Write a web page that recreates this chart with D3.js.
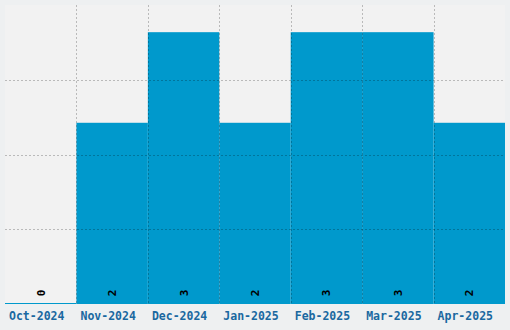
<!DOCTYPE html>
<html>
<head>
<meta charset="utf-8">
<script src="https://cdn.jsdelivr.net/npm/d3@7"></script>
<style>
  body { margin: 0; background: #eef0f1; }
  svg { display: block; }
</style>
</head>
<body>
<div id="chart"></div>
<script>
// data
var months = ["Oct-2024", "Nov-2024", "Dec-2024", "Jan-2025", "Feb-2025", "Mar-2025", "Apr-2025"];
var counts = [0, 2, 3, 2, 3, 3, 2];
var yMax = 3.3;

var width = 510, height = 330;
var margin = { top: 5, right: 5, bottom: 26, left: 5 };
var plotW = width - margin.left - margin.right;
var plotH = height - margin.top - margin.bottom;

var svg = d3.select("#chart").append("svg")
    .attr("width", width)
    .attr("height", height);

var g = svg.append("g")
    .attr("transform", "translate(" + margin.left + "," + margin.top + ")");

// plot background
g.append("rect")
    .attr("width", plotW)
    .attr("height", plotH)
    .attr("fill", "#f2f2f2");

var x = d3.scaleBand().domain(months).range([0, plotW]).padding(0);
var y = d3.scaleLinear().domain([0, yMax]).range([plotH, 0]);

// bars
g.selectAll(".bar")
    .data(counts)
    .enter()
    .append("rect")
    .attr("class", "bar")
    .attr("x", function(d, i) { return x(months[i]); })
    .attr("y", function(d) { return y(d); })
    .attr("width", x.bandwidth())
    .attr("height", function(d) { return plotH - y(d); })
    .attr("fill", "#0099cc");

// zero baseline for empty bars
g.selectAll(".zero")
    .data(counts.map(function(d, i) { return { v: d, m: months[i] }; }).filter(function(d) { return d.v === 0; }))
    .enter()
    .append("line")
    .attr("x1", function(d) { return x(d.m); })
    .attr("x2", function(d) { return x(d.m) + x.bandwidth(); })
    .attr("y1", y(0) - 0.5)
    .attr("y2", y(0) - 0.5)
    .attr("stroke", "#0099cc")
    .attr("stroke-width", 1.2);

// grid (4 even divisions)
var gridY = d3.range(1, 4).map(function(i) { return yMax * i / 4; });
g.selectAll(".hgrid")
    .data(gridY)
    .enter()
    .append("line")
    .attr("x1", 0)
    .attr("x2", plotW)
    .attr("y1", function(d) { return Math.round(y(d)) + 0.5; })
    .attr("y2", function(d) { return Math.round(y(d)) + 0.5; })
    .attr("stroke", "rgba(0,0,0,0.23)")
    .attr("stroke-dasharray", "2,2");

g.selectAll(".vgrid")
    .data(months.slice(1))
    .enter()
    .append("line")
    .attr("x1", function(d) { return Math.round(x(d)) + 0.5; })
    .attr("x2", function(d) { return Math.round(x(d)) + 0.5; })
    .attr("y1", 0)
    .attr("y2", plotH)
    .attr("stroke", "rgba(0,0,0,0.23)")
    .attr("stroke-dasharray", "2,2");

// value labels, rotated
g.selectAll(".val")
    .data(counts)
    .enter()
    .append("text")
    .attr("transform", function(d, i) {
        return "translate(" + (x(months[i]) + x.bandwidth() / 2 + 4) + "," + (plotH - 11) + ") rotate(-90)";
    })
    .attr("text-anchor", "middle")
    .style("font-family", "'DejaVu Sans Mono', monospace")
    .style("font-weight", "bold")
    .style("font-size", "11px")
    .style("fill", "#000")
    .text(function(d) { return d; });

// x axis
var xAxis = d3.axisBottom(x).tickSize(0).tickPadding(8);
var ax = g.append("g")
    .attr("transform", "translate(0," + plotH + ")")
    .call(xAxis);
ax.select(".domain").remove();
ax.selectAll("text")
    .attr("dx", -4)
    .style("font-family", "'DejaVu Sans Mono', monospace")
    .style("font-weight", "bold")
    .style("font-size", "11.5px")
    .style("fill", "#1a68a0");
</script>
</body>
</html>
